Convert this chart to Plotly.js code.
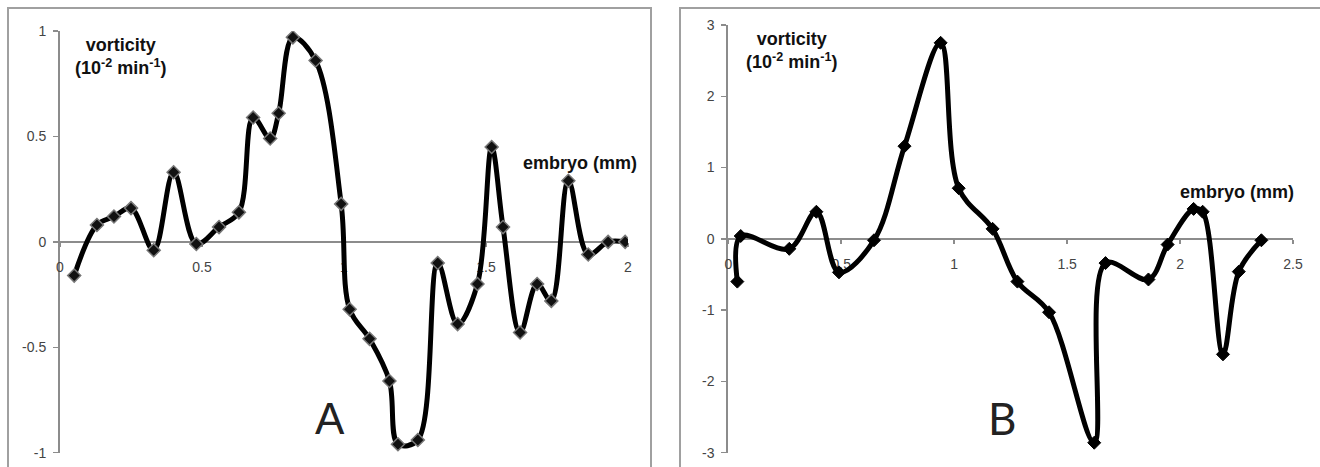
<!DOCTYPE html>
<html>
<head>
<meta charset="utf-8">
<script src="https://cdn.plot.ly/plotly-3.0.1.min.js"></script>
<style>html,body{margin:0;padding:0;background:#fff;}#chart{width:1320px;height:467px;}</style>
</head>
<body>
<div id="chart"></div>
<script>
// Panel A: embryo position (mm) vs vorticity (10^-2 min^-1)
const embryoA = [0.05,0.13,0.19,0.25,0.33,0.40,0.48,0.56,0.63,0.68,0.74,0.77,0.82,0.90,0.99,1.02,1.09,1.16,1.19,1.26,1.33,1.40,1.47,1.52,1.56,1.62,1.68,1.73,1.79,1.86,1.93,1.99];
const vortA  = [-0.16,0.08,0.12,0.16,-0.04,0.33,-0.01,0.07,0.14,0.59,0.49,0.61,0.97,0.86,0.18,-0.32,-0.46,-0.66,-0.96,-0.94,-0.10,-0.39,-0.20,0.45,0.07,-0.43,-0.20,-0.28,0.29,-0.06,0.00,0.00];
// Panel B
const embryoB = [0.04,0.055,0.27,0.39,0.49,0.645,0.78,0.94,1.02,1.17,1.28,1.42,1.62,1.67,1.86,1.945,2.06,2.10,2.19,2.26,2.36];
const vortB  = [-0.60,0.04,-0.14,0.38,-0.47,-0.02,1.30,2.75,0.71,0.14,-0.60,-1.03,-2.86,-0.34,-0.57,-0.08,0.42,0.38,-1.62,-0.46,-0.02];
const ticksA_x = [0,0.5,1,1.5,2];
const ticksA_y = [-1,-0.5,0,0.5,1];
const ticksB_x = [0,0.5,1,1.5,2,2.5];
const ticksB_y = [-3,-2,-1,0,1,2,3];
const yLabel = "vorticity<br>(10<sup>-2</sup> min<sup>-1</sup>)";
const xLabel = "embryo (mm)";

const W = 1320, H = 467;
const px = v => v / W, py = v => 1 - v / H;

const traceA = {
  x: embryoA, y: vortA, xaxis: 'x', yaxis: 'y', type: 'scatter', mode: 'lines+markers',
  line: {color: '#000', width: 5, shape: 'spline', smoothing: 1},
  marker: {symbol: 'diamond', size: 10, color: '#111', line: {color: '#777', width: 1.5}},
  hoverinfo: 'skip'
};
const traceB = {
  x: embryoB, y: vortB, xaxis: 'x2', yaxis: 'y2', type: 'scatter', mode: 'lines+markers',
  line: {color: '#000', width: 5, shape: 'spline', smoothing: 1},
  marker: {symbol: 'diamond', size: 10, color: '#000', line: {color: '#000', width: 1}},
  hoverinfo: 'skip'
};

const tickFont = {family: 'Liberation Sans, Arial, sans-serif', size: 14, color: '#444'};
const axCommon = {
  showgrid: false, zeroline: false, showline: true, linecolor: '#8c8c8c', linewidth: 2,
  ticks: 'outside', ticklen: 5, tickwidth: 1.5, tickcolor: '#8c8c8c',
  tickfont: tickFont, layer: 'below traces', fixedrange: true
};

const yDomA = [1 - 452.7 / H, 1 - 31 / H];
const yDomB = [1 - 452.7 / H, 1 - 25 / H];

const labelFont = {family: 'Liberation Sans, Arial, sans-serif', size: 18, color: '#111'};
function note(x, y, text, font) {
  return {xref: 'paper', yref: 'paper', x: px(x), y: py(y), text: text, showarrow: false,
          xanchor: 'center', yanchor: 'middle', align: 'center', font: font};
}

const layout = {
  width: W, height: H,
  margin: {l: 0, r: 0, t: 0, b: 0},
  paper_bgcolor: '#fff', plot_bgcolor: 'rgba(0,0,0,0)',
  showlegend: false,
  xaxis: Object.assign({}, axCommon, {
    domain: [px(60), px(628)], range: [0, 2], tickvals: ticksA_x, ticktext: ticksA_x.map(String),
    anchor: 'free', position: (yDomA[0] + yDomA[1]) / 2, ticklen: 4, ticklabelstandoff: 8
  }),
  yaxis: Object.assign({}, axCommon, {
    domain: yDomA, range: [-1, 1], tickvals: ticksA_y, ticktext: ticksA_y.map(String),
    anchor: 'x', ticklabelstandoff: 4
  }),
  xaxis2: Object.assign({}, axCommon, {
    domain: [px(728.3), px(1293)], range: [0, 2.5], tickvals: ticksB_x, ticktext: ticksB_x.map(String),
    anchor: 'free', position: (yDomB[0] + yDomB[1]) / 2, ticklen: 4, ticklabelstandoff: 8
  }),
  yaxis2: Object.assign({}, axCommon, {
    domain: yDomB, range: [-3, 3], tickvals: ticksB_y, ticktext: ticksB_y.map(String),
    anchor: 'x2', ticklabelstandoff: 4
  }),
  shapes: [
    {type: 'rect', xref: 'paper', yref: 'paper', x0: px(8), x1: px(651), y0: -0.05, y1: py(8),
     line: {color: '#a0a0a0', width: 2}, fillcolor: 'rgba(0,0,0,0)', layer: 'below'},
    {type: 'rect', xref: 'paper', yref: 'paper', x0: px(680), x1: 1.05, y0: -0.05, y1: py(8),
     line: {color: '#a0a0a0', width: 2}, fillcolor: 'rgba(0,0,0,0)', layer: 'below'}
  ],
  annotations: [
    note(121, 56, '<b>' + yLabel + '</b>', labelFont),
    note(791, 50, '<b>' + yLabel + '</b>', labelFont),
    note(580, 163, '<b>' + xLabel + '</b>', labelFont),
    note(1237, 192, '<b>' + xLabel + '</b>', labelFont),
    note(330, 418, 'A', {family: 'Liberation Sans, Arial, sans-serif', size: 44, color: '#222'}),
    note(1002, 418, 'B', {family: 'Lato, Liberation Sans, Arial, sans-serif', size: 44, color: '#222'})
  ]
};

Plotly.newPlot('chart', [traceA, traceB], layout, {displayModeBar: false, staticPlot: true});
</script>
</body>
</html>
